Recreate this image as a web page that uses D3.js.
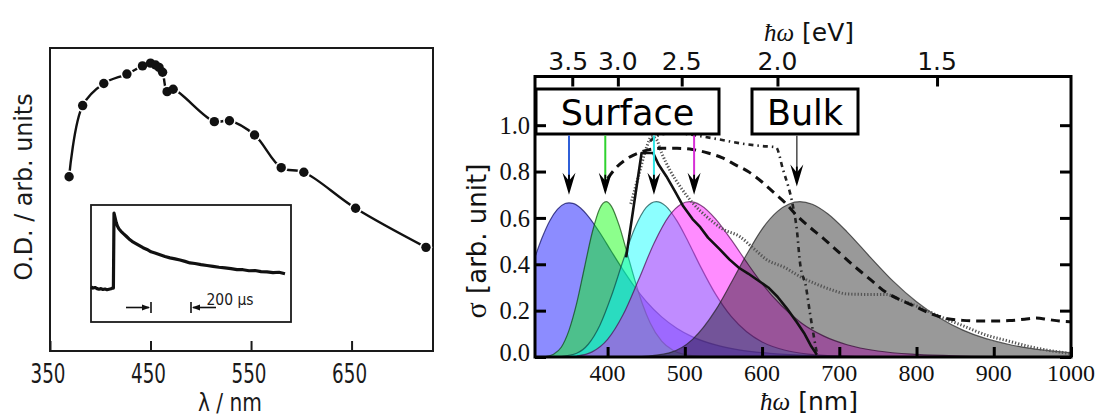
<!DOCTYPE html>
<html><head><meta charset="utf-8">
<script src="https://cdn.jsdelivr.net/npm/d3@7"></script>
<style>
html,body{margin:0;padding:0;background:#fff;}
svg{display:block;}
.serif{font-family:"Liberation Serif","DejaVu Serif",serif;}
.sansA{font-family:"DejaVu Sans",sans-serif;}
.sansD{font-family:"DejaVu Sans",sans-serif;}
</style></head>
<body>
<svg id="chart" width="1101" height="416"></svg>
<script>
// ---------------- Left panel data ----------------
const leftWavelength = [369,382.5,403.5,426.5,442,450,455,458.5,462,466.5,472.5,513.5,528.5,553.5,580,602.5,654,724];
const leftOD = [0.575,0.81,0.883,0.914,0.941,0.95,0.944,0.936,0.92,0.856,0.864,0.757,0.76,0.713,0.605,0.59,0.471,0.342];
const leftTicks = [350,450,550,650];

// inset transient (time in µs, signal arb.)
const insetTime = [0,10,20,30,40,50,60,70,80,90,100,108,112,115,120,126,132,140,150,162,175,190,205,220,240,260,280,300,320,345,370,395,420,445,470,495,520,550,580,610,640,670,700,730,760,790,820,850,880,910,940,970];
const insetSignal = [0.30,0.29,0.295,0.285,0.28,0.285,0.278,0.282,0.276,0.28,0.284,0.29,0.29,0.93,0.895,0.85,0.82,0.795,0.775,0.755,0.735,0.71,0.69,0.675,0.655,0.635,0.62,0.6,0.59,0.575,0.56,0.548,0.54,0.53,0.518,0.505,0.5,0.49,0.483,0.476,0.468,0.462,0.456,0.448,0.447,0.438,0.44,0.43,0.428,0.422,0.425,0.412];
const insetScaleBar = [300,500];

// ---------------- Right panel data ----------------
const nmTicks = [400,500,600,700,800,900,1000];
const sigmaTicks = [0,0.2,0.4,0.6,0.8,1.0];
const eVTicks = [3.5,3.0,2.5,2.0,1.5];

const blueNm  = [300,306,315,325,335,345,350,355,365,375,390,405,420,435,450,470,490,510,540,570,610,660,720,800];
const blueVal = [0.372,0.431,0.513,0.587,0.637,0.662,0.665,0.663,0.643,0.607,0.536,0.455,0.376,0.303,0.240,0.173,0.123,0.087,0.052,0.031,0.016,0.007,0.003,0.001];

const greenNm  = [320,330,340,350,360,370,380,390,398,405,415,425,435,445,455,470,485,500,520,545];
const greenVal = [0.002,0.012,0.042,0.115,0.232,0.385,0.536,0.642,0.67,0.650,0.567,0.452,0.335,0.230,0.148,0.068,0.028,0.010,0.003,0];

const cyanNm  = [340,360,375,390,405,420,435,450,463,475,490,505,520,540,560,580,600,630,660,700,750];
const cyanVal = [0.002,0.016,0.055,0.137,0.264,0.415,0.554,0.645,0.67,0.652,0.586,0.493,0.392,0.270,0.175,0.109,0.065,0.029,0.012,0.004,0.001];

const magentaNm  = [360,380,400,420,440,460,480,495,506,520,540,560,580,600,625,650,680,710,750,800,860,920];
const magentaVal = [0.004,0.022,0.076,0.182,0.332,0.490,0.610,0.659,0.67,0.656,0.595,0.506,0.409,0.317,0.222,0.149,0.090,0.053,0.026,0.011,0.004,0.001];

const grayNm  = [440,480,510,540,560,580,600,620,635,649,665,685,710,740,770,800,830,860,890,920,950,980,1000];
const grayVal = [0.001,0.018,0.076,0.203,0.320,0.442,0.552,0.628,0.660,0.67,0.659,0.618,0.540,0.431,0.326,0.238,0.168,0.116,0.079,0.054,0.036,0.024,0.018];

const solidNm  = [424,444,459,466,476,488,498,510,520,530,545,558,570,582,595,608,620,632,645,655,663,671];
const solidVal = [0.43,0.88,0.88,0.83,0.78,0.71,0.65,0.595,0.56,0.515,0.465,0.42,0.385,0.36,0.33,0.30,0.26,0.21,0.15,0.10,0.05,0.01];

const dashedNm  = [400,412,425,440,455,470,490,510,530,548,565,582,600,615,630,645,660,680,700,720,740,760,780,800,820,840,860,880,900,920,940,955,970,985,1000];
const dashedVal = [0.77,0.82,0.855,0.88,0.895,0.9,0.9,0.895,0.88,0.86,0.83,0.8,0.755,0.71,0.665,0.61,0.565,0.51,0.45,0.39,0.335,0.28,0.245,0.215,0.185,0.165,0.158,0.155,0.155,0.157,0.163,0.168,0.162,0.155,0.152];

const dashDotNm  = [455,465,480,500,525,550,575,600,618,627,640,645,649,657,662,668,671];
const dashDotVal = [0.93,0.955,0.965,0.962,0.95,0.935,0.92,0.91,0.905,0.81,0.65,0.55,0.41,0.30,0.19,0.07,0.015];

const fineDotNm  = [430,440,450,457,463,470,480,495,510,530,550,571,590,606,630,649,670,690,710,735,760,780,800,830,860,890,920,950,980,1000];
const fineDotVal = [0.66,0.78,0.9,0.95,0.94,0.88,0.81,0.73,0.665,0.60,0.55,0.52,0.465,0.42,0.385,0.347,0.315,0.29,0.272,0.27,0.27,0.245,0.22,0.175,0.135,0.095,0.068,0.042,0.024,0.015];

const surfaceArrowNm = [350,397,460,512];
const surfaceArrowColors = ["#2f5fd8","#2fd22f","#2fe6e6","#d62fd6"];
const bulkArrowNm = 645;

// ---------------- drawing ----------------
const svg = d3.select("#chart");

// ===== Left panel =====
const xL = d3.scaleLinear().domain([350,731]).range([50,433]);
const yL = d3.scaleLinear().domain([0,1]).range([351,48]);
const gL = svg.append("g");

gL.append("rect").attr("x",50).attr("y",48).attr("width",383).attr("height",303)
  .attr("fill","none").attr("stroke","#1a1a1a").attr("stroke-width",2);

gL.append("g").attr("transform","translate(0,351)")
  .call(d3.axisBottom(xL).tickValues(leftTicks).tickSize(-10).tickFormat(""))
  .call(g=>g.select(".domain").remove())
  .selectAll("line").attr("stroke","#1a1a1a").attr("stroke-width",2);

gL.selectAll("text.lt").data(leftTicks).join("text").attr("class","lt sansD")
  .attr("x",d=>xL(d)-2).attr("y",382.5).attr("text-anchor","middle")
  .attr("font-size",26).attr("fill","#1a1a1a")
  .attr("textLength",35).attr("lengthAdjust","spacingAndGlyphs").text(d=>d);

gL.append("text").attr("class","sansD").attr("x",230).attr("y",411).attr("text-anchor","middle")
  .attr("font-size",25).attr("fill","#1a1a1a")
  .attr("textLength",64).attr("lengthAdjust","spacingAndGlyphs").text("λ / nm");

gL.append("text").attr("class","sansD").attr("transform","translate(32,187) rotate(-90)").attr("text-anchor","middle")
  .attr("font-size",25).attr("fill","#1a1a1a")
  .attr("textLength",187).attr("lengthAdjust","spacingAndGlyphs").text("O.D. / arb. units");

const leftPts = d3.zip(leftWavelength, leftOD);
gL.append("path").datum(leftPts)
  .attr("d", d3.line().x(d=>xL(d[0])).y(d=>yL(d[1])).curve(d3.curveCatmullRom.alpha(0.5)))
  .attr("fill","none").attr("stroke","#111").attr("stroke-width",2.4);
gL.selectAll("circle.halo").data(leftPts).join("circle").attr("class","halo")
  .attr("cx",d=>xL(d[0])).attr("cy",d=>yL(d[1])).attr("r",6.3).attr("fill","#fff");
gL.selectAll("circle.pt").data(leftPts).join("circle").attr("class","pt")
  .attr("cx",d=>xL(d[0])).attr("cy",d=>yL(d[1])).attr("r",4.7).attr("fill","#111");

// inset
const xI = d3.scaleLinear().domain([0,1000]).range([91,291]);
const yI = d3.scaleLinear().domain([0,1]).range([322,205]);
gL.append("rect").attr("x",91).attr("y",205).attr("width",200).attr("height",117)
  .attr("fill","#fff").attr("stroke","#1a1a1a").attr("stroke-width",1.8);
gL.append("path").datum(d3.zip(insetTime, insetSignal))
  .attr("d", d3.line().x(d=>xI(d[0])).y(d=>yI(d[1])))
  .attr("fill","none").attr("stroke","#111").attr("stroke-width",3.2).attr("stroke-linejoin","round");

const sbY = 307.5;
const bx0 = xI(insetScaleBar[0]), bx1 = xI(insetScaleBar[1]);
const sb = gL.append("g").attr("stroke","#111").attr("stroke-width",1.6);
sb.append("line").attr("x1",bx0).attr("x2",bx0).attr("y1",sbY-5.5).attr("y2",sbY+5.5);
sb.append("line").attr("x1",bx1).attr("x2",bx1).attr("y1",sbY-5.5).attr("y2",sbY+5.5);
sb.append("line").attr("x1",bx0-25).attr("x2",bx0-2).attr("y1",sbY).attr("y2",sbY);
sb.append("line").attr("x1",bx1+2).attr("x2",bx1+25).attr("y1",sbY).attr("y2",sbY);
gL.append("path").attr("d",`M${bx0-1},${sbY} L${bx0-9},${sbY-3} L${bx0-9},${sbY+3} Z`).attr("fill","#111");
gL.append("path").attr("d",`M${bx1+1},${sbY} L${bx1+9},${sbY-3} L${bx1+9},${sbY+3} Z`).attr("fill","#111");
gL.append("text").attr("class","sansD").attr("x",206.5).attr("y",305).attr("font-size",15)
  .attr("fill","#1a1a1a").attr("textLength",47).attr("lengthAdjust","spacingAndGlyphs").text("200 µs");

// ===== Right panel =====
const X0=535, X1=1071, Y0=357, Y1=76.5;
const xR = d3.scaleLinear().domain([306,1000]).range([X0,X1]);
const yR = d3.scaleLinear().domain([0,1.21]).range([Y0,Y1]);
const gR = svg.append("g");
svg.append("defs").append("clipPath").attr("id","plotclip")
  .append("rect").attr("x",X0).attr("y",Y1).attr("width",X1-X0).attr("height",Y0-Y1);
const plot = gR.append("g").attr("clip-path","url(#plotclip)");

const area = d3.area().x(d=>xR(d[0])).y0(yR(0)).y1(d=>yR(d[1])).curve(d3.curveMonotoneX);
const edge = d3.line().x(d=>xR(d[0])).y(d=>yR(d[1])).curve(d3.curveMonotoneX);
const bands = [
  [blueNm, blueVal, "rgba(0,0,255,0.45)", "rgba(10,10,90,0.7)"],
  [greenNm, greenVal, "rgba(0,255,0,0.45)", "rgba(10,70,10,0.7)"],
  [cyanNm, cyanVal, "rgba(0,255,255,0.45)", "rgba(10,70,70,0.7)"],
  [magentaNm, magentaVal, "rgba(255,0,255,0.45)", "rgba(80,10,80,0.7)"],
  [grayNm, grayVal, "rgba(0,0,0,0.4)", "rgba(30,30,30,0.7)"]
];
bands.forEach(([nm,val,fill,stroke])=>{
  const pts = d3.zip(nm,val);
  plot.append("path").datum(pts).attr("d",area).attr("fill",fill).attr("stroke","none");
  plot.append("path").datum(pts).attr("d",edge).attr("fill","none").attr("stroke",stroke).attr("stroke-width",1.2);
});

const lineGen = d3.line().x(d=>xR(d[0])).y(d=>yR(d[1])).curve(d3.curveMonotoneX);
plot.append("path").datum(d3.zip(fineDotNm,fineDotVal)).attr("d",lineGen)
  .attr("fill","none").attr("stroke","#555").attr("stroke-width",3).attr("stroke-dasharray","1.3,1.9");
plot.append("path").datum(d3.zip(dashDotNm,dashDotVal)).attr("d",lineGen)
  .attr("fill","none").attr("stroke","#222").attr("stroke-width",2.6).attr("stroke-dasharray","5,4,1.5,4");
plot.append("path").datum(d3.zip(dashedNm,dashedVal)).attr("d",lineGen)
  .attr("fill","none").attr("stroke","#111").attr("stroke-width",3).attr("stroke-dasharray","9,6");
plot.append("path").datum(d3.zip(solidNm,solidVal)).attr("d",d3.line().x(d=>xR(d[0])).y(d=>yR(d[1])))
  .attr("fill","none").attr("stroke","#111").attr("stroke-width",2.6).attr("stroke-linejoin","round");

// label boxes
const boxTop = 89, boxBot = 134;
gR.append("rect").attr("x",536).attr("y",boxTop).attr("width",183).attr("height",boxBot-boxTop)
  .attr("fill","#fff").attr("stroke","#000").attr("stroke-width",3);
gR.append("text").attr("class","sansD").attr("x",627.5).attr("y",125).attr("text-anchor","middle")
  .attr("font-size",35).text("Surface");
gR.append("rect").attr("x",752).attr("y",boxTop).attr("width",106).attr("height",boxBot-boxTop)
  .attr("fill","#fff").attr("stroke","#000").attr("stroke-width",3);
gR.append("text").attr("class","sansD").attr("x",805).attr("y",125).attr("text-anchor","middle")
  .attr("font-size",35).text("Bulk");

// arrows
function arrow(nm, color, tipVal, lw){
  const x = xR(nm), yt = yR(tipVal);
  gR.append("line").attr("x1",x).attr("x2",x).attr("y1",boxBot+1.5).attr("y2",yt-12)
    .attr("stroke",color).attr("stroke-width",lw);
  gR.append("path").attr("d",`M${x},${yt} L${x-6.5},${yt-22} L${x},${yt-14} L${x+6.5},${yt-22} Z`)
    .attr("fill","#000");
  gR.append("line").attr("x1",x).attr("x2",x).attr("y1",yt-20).attr("y2",yt-4)
    .attr("stroke","#000").attr("stroke-width",1.8);
}
surfaceArrowNm.forEach((nm,i)=>arrow(nm, surfaceArrowColors[i], 0.70, 2));
arrow(bulkArrowNm, "#555", 0.735, 1.6);

// frame
gR.append("rect").attr("x",X0).attr("y",Y1).attr("width",X1-X0).attr("height",Y0-Y1)
  .attr("fill","none").attr("stroke","#000").attr("stroke-width",3);

// bottom axis (nm)
gR.append("g").attr("transform",`translate(0,${Y0})`)
  .call(d3.axisBottom(xR).tickValues(nmTicks).tickSize(-10).tickFormat(""))
  .call(g=>g.select(".domain").remove())
  .selectAll("line").attr("stroke","#000").attr("stroke-width",3);
gR.selectAll("text.bt").data(nmTicks).join("text").attr("class","bt serif")
  .attr("x",d=>xR(d)).attr("y",381).attr("text-anchor","middle")
  .attr("font-size",24).attr("fill","#111").text(d=>d);

// left & right axes
gR.append("g").attr("transform",`translate(${X0},0)`)
  .call(d3.axisLeft(yR).tickValues(sigmaTicks).tickSize(-11).tickFormat(""))
  .call(g=>g.select(".domain").remove())
  .selectAll("line").attr("stroke","#000").attr("stroke-width",3);
gR.append("g").attr("transform",`translate(${X1},0)`)
  .call(d3.axisRight(yR).tickValues(sigmaTicks).tickSize(-11).tickFormat(""))
  .call(g=>g.select(".domain").remove())
  .selectAll("line").attr("stroke","#000").attr("stroke-width",3);
gR.selectAll("text.yt").data(sigmaTicks).join("text").attr("class","yt serif")
  .attr("x",530).attr("y",d=>Math.min(yR(d),352)).attr("dy","0.36em").attr("text-anchor","end")
  .attr("font-size",24.5).attr("fill","#111").text(d=>d3.format(".1f")(d));

// top axis (eV)
const evToNm = e => 1239.84/e;
gR.append("g").attr("transform",`translate(0,${Y1})`)
  .call(d3.axisTop(xR).tickValues(eVTicks.map(evToNm)).tickSize(-10).tickFormat(""))
  .call(g=>g.select(".domain").remove())
  .selectAll("line").attr("stroke","#000").attr("stroke-width",3);
gR.selectAll("text.tt").data(eVTicks).join("text").attr("class","tt sansA")
  .attr("x",d=>xR(evToNm(d)) - (d===3.5?4:0)).attr("y",70).attr("text-anchor","middle")
  .attr("font-size",25).attr("fill","#111").text(d=>d3.format(".1f")(d));

// axis titles
function hbarTitle(x, y, unit){
  const t = gR.append("text").attr("x",x).attr("y",y).attr("text-anchor","middle").attr("font-size",25).attr("fill","#111");
  t.append("tspan").attr("class","serif").attr("font-style","italic").text("ħω");
  t.append("tspan").attr("class","sansA").text(" ["+unit+"]");
}
hbarTitle(809, 41, "eV");
hbarTitle(809, 410, "nm");

const ylab = gR.append("text").attr("transform","translate(486,241) rotate(-90)").attr("text-anchor","middle").attr("font-size",26).attr("fill","#111");
ylab.append("tspan").attr("class","serif").attr("font-size",30).text("σ");
ylab.append("tspan").attr("class","sansA").text(" [arb. unit]");
</script>
</body></html>
